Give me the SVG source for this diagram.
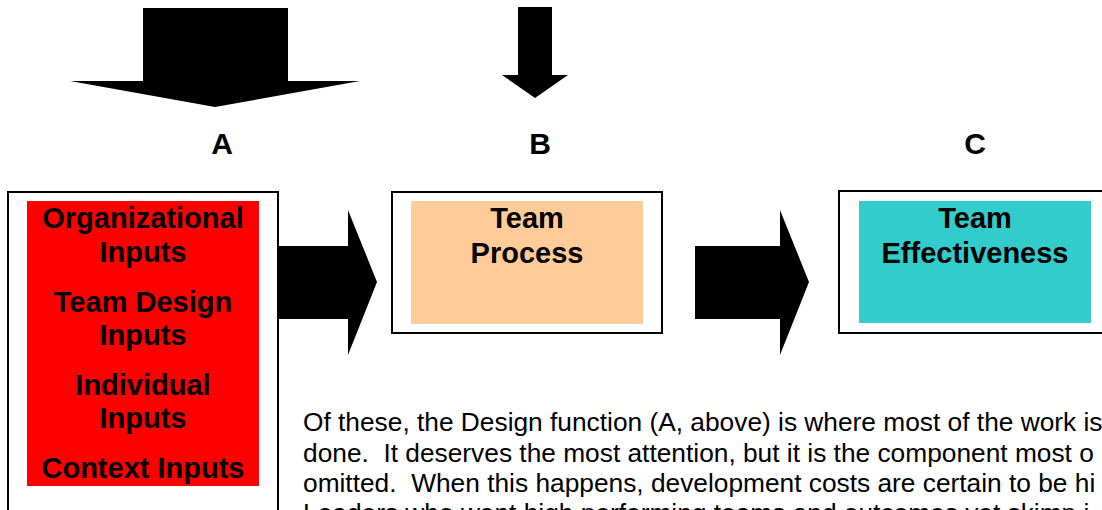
<svg xmlns="http://www.w3.org/2000/svg" width="1102" height="510" viewBox="0 0 1102 510">
  <style>
    .frame { fill: #ffffff; stroke: #000000; stroke-width: 2; }
    .arrow { fill: #000000; stroke: none; }
    .label { font-family: "Liberation Sans", Arial, sans-serif; font-weight: bold; font-size: 30px; fill: #000; text-anchor: middle; }
    .title { font-family: "Liberation Sans", Arial, sans-serif; font-weight: bold; font-size: 29px; fill: #000; text-anchor: middle; }
    .body { font-family: "Liberation Sans", Arial, sans-serif; font-size: 26.3px; fill: #000; white-space: pre; }
  </style>
  <rect width="1102" height="510" fill="#ffffff"/>

  <!-- downward block arrows feeding the stages -->
  <g id="feed-arrows">
    <polygon class="arrow" points="143,8 288,8 288,81 360,81 215,107 70,81 143,81"/>
    <polygon class="arrow" points="518,7 552,7 552,75 568,75 535,98 502,75 518,75"/>
  </g>

  <!-- stage letters -->
  <g id="stage-labels">
    <text class="label" x="222" y="154">A</text>
    <text class="label" x="540" y="154">B</text>
    <text class="label" x="975" y="154">C</text>
  </g>

  <!-- connectors between stages -->
  <g id="connectors">
    <polygon class="arrow" points="279,246 348,246 348,210 377,282 348,355 348,319 279,319"/>
    <polygon class="arrow" points="695,246 780,246 780,210 809,282 780,355 780,319 695,319"/>
  </g>

  <!-- A: inputs -->
  <g id="node-inputs">
    <rect class="frame" x="8" y="192" width="270" height="400"/>
    <rect x="27" y="201" width="232" height="285" fill="#ff0000"/>
    <text class="title" x="143" y="228">Organizational</text>
    <text class="title" x="143" y="262">Inputs</text>
    <text class="title" x="143" y="312">Team Design</text>
    <text class="title" x="143" y="345">Inputs</text>
    <text class="title" x="143" y="395">Individual</text>
    <text class="title" x="143" y="428">Inputs</text>
    <text class="title" x="143" y="478">Context Inputs</text>
  </g>

  <!-- B: process -->
  <g id="node-process">
    <rect class="frame" x="392" y="192" width="270" height="141"/>
    <rect x="411" y="201" width="232" height="123" fill="#ffcc99"/>
    <text class="title" x="527" y="228">Team</text>
    <text class="title" x="527" y="263">Process</text>
  </g>

  <!-- C: effectiveness -->
  <g id="node-effectiveness">
    <rect class="frame" x="839" y="191" width="270" height="142"/>
    <rect x="859" y="201" width="232" height="122" fill="#33cccc"/>
    <text class="title" x="975" y="228">Team</text>
    <text class="title" x="975" y="263">Effectiveness</text>
  </g>

  <!-- explanatory paragraph -->
  <g id="note">
    <text class="body" x="303" y="431">Of these, the Design function (A, above) is where most of the work is</text>
    <text class="body" x="303" y="462">done.  It deserves the most attention, but it is the component most o</text>
    <text class="body" x="303" y="492">omitted.  When this happens, development costs are certain to be hi</text>
    <text class="body" x="303" y="522">Leaders who want high performing teams and outcomes yet skimp i</text>
  </g>
</svg>
